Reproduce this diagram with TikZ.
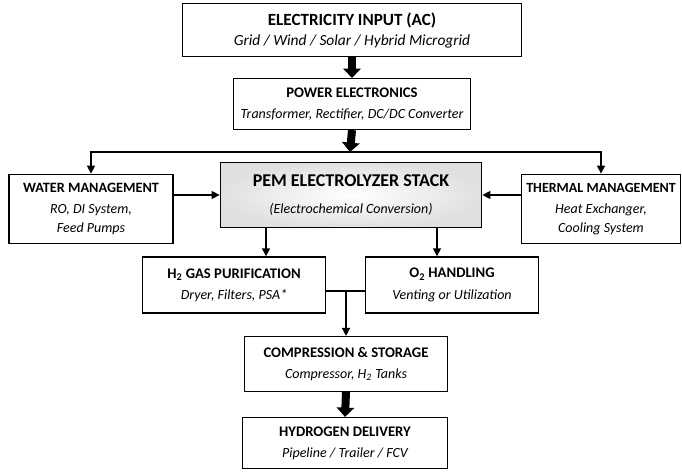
\documentclass[tikz,border=0pt]{standalone}
\usepackage{fontspec}
\setmainfont{Carlito}
\usetikzlibrary{arrows.meta}

\newcommand{\subfont}{\fontsize{10.5}{12.5}\selectfont\itshape}
\newcommand{\boxtext}[2]{{\bfseries #1}\\[3pt]{\subfont #2}}

\begin{document}
\begin{tikzpicture}[>=latex, x=0.75pt, y=-0.75pt]
        \tikzset{
            block/.style={draw, line width=1.1pt, fill=white, align=center, inner sep=2pt, font=\fontsize{11}{13}\selectfont},
            arrow/.style={-{Triangle[width=6pt,length=6pt]}, line width=1.1pt},
            bigarrow/.style={-{Triangle[width=13pt,length=7pt]}, line width=6pt},
            link/.style={line width=1.1pt}
        }
        \useasboundingbox (0,0) rectangle (682,472);

        \node[block, minimum width=254pt, minimum height=40pt] (input) at (352,30) {{\fontsize{12.8}{15}\selectfont\bfseries ELECTRICITY INPUT (AC)}\\[2pt]{\fontsize{11.6}{14}\selectfont\itshape Grid / Wind / Solar / Hybrid Microgrid}};
        \node[block, minimum width=178pt, minimum height=38pt] (power) at (352,104) {\boxtext{POWER ELECTRONICS}{Transformer, Rectifier, DC/DC Converter}};

        \node[block, minimum width=196pt, minimum height=49pt, inner color=white, outer color=gray!24] (pem) at (351,195) {{\fontsize{13.5}{16}\selectfont\bfseries PEM ELECTROLYZER STACK}\\[7pt]{\subfont (Electrochemical Conversion)}};
        \node[block, minimum width=123pt, minimum height=52pt] (water) at (91,209) {{\fontsize{10.7}{13}\selectfont\bfseries WATER MANAGEMENT}\\[3pt]{\subfont RO, DI System,}\\[1pt]{\subfont Feed Pumps}};
        \node[block, minimum width=119pt, minimum height=52pt] (thermal) at (601,209) {{\fontsize{10.5}{13}\selectfont\bfseries THERMAL MANAGEMENT}\\[3pt]{\subfont Heat Exchanger,}\\[1pt]{\subfont Cooling System}};

        \node[block, minimum width=137pt, minimum height=42pt] (h2) at (234,285) {\boxtext{H\textsubscript{2} GAS PURIFICATION}{Dryer, Filters, PSA*}};
        \node[block, minimum width=130pt, minimum height=42pt] (o2) at (452,285) {\boxtext{O\textsubscript{2} HANDLING}{Venting or Utilization}};

        \node[block, minimum width=152pt, minimum height=41pt] (comp) at (346,364) {\boxtext{COMPRESSION \& STORAGE}{Compressor, H\textsubscript{2} Tanks}};
        \node[block, minimum width=154pt, minimum height=38pt] (deliv) at (345,443) {\boxtext{HYDROGEN DELIVERY}{Pipeline / Trailer / FCV}};

        \coordinate (split) at (350,152);
        \coordinate (hdrop) at (266,0);
        \coordinate (odrop) at (437,0);
        \coordinate (join) at (346,291);

        \draw[bigarrow] (input.south) -- (power.north);
        \draw[bigarrow] (power.south) -- (split);
        \draw[arrow] (power.south |- split) -| (water.north);
        \draw[arrow] (power.south |- split) -| (thermal.north);

        \draw[arrow] (water.east |- pem.west) -- (pem.west);
        \draw[arrow] (thermal.west |- pem.east) -- (pem.east);

        \draw[arrow] (pem.south -| hdrop) -- (h2.north -| hdrop);
        \draw[arrow] (pem.south -| odrop) -- (o2.north -| odrop);

        \draw[link] (h2.east |- join) -- (o2.west |- join);
        \draw[arrow] (join) -- (join |- comp.north);
        \draw[bigarrow] (comp.south) -- (deliv.north);
    \end{tikzpicture}
\end{document}
